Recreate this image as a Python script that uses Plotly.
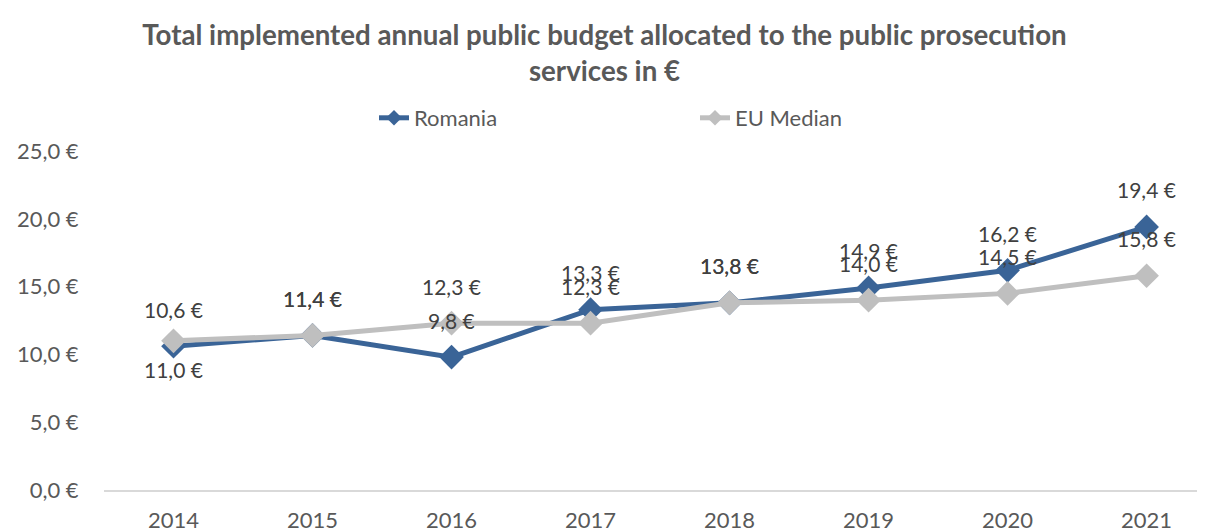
import plotly.graph_objects as go

years = ["2014", "2015", "2016", "2017", "2018", "2019", "2020", "2021"]
romania = [10.6, 11.4, 9.8, 13.3, 13.8, 14.9, 16.2, 19.4]
eu_median = [11.0, 11.4, 12.3, 12.3, 13.8, 14.0, 14.5, 15.8]
y_ticks = [0, 5, 10, 15, 20, 25]

def fmt(v):
    return f"{v:.1f}".replace(".", ",") + " €"

BLUE = "#3A6497"
GREY = "#BFBFBF"
TXT = "#595959"
LBL = "#404040"
FONT = "Lato, Open Sans, sans-serif"

fig = go.Figure()
fig.add_trace(go.Scatter(
    x=years, y=romania, name="Romania", mode="lines+markers",
    line=dict(color=BLUE, width=5),
    marker=dict(symbol="diamond", size=19, color=BLUE),
    cliponaxis=False,
))
fig.add_trace(go.Scatter(
    x=years, y=eu_median, name="EU Median", mode="lines+markers",
    line=dict(color=GREY, width=5),
    marker=dict(symbol="diamond", size=19, color=GREY),
    cliponaxis=False,
))

annotations = []
for i, yr in enumerate(years):
    annotations.append(dict(x=i, y=romania[i], text=fmt(romania[i]), showarrow=False,
                            xref="x", yref="y",
                            yshift=37, font=dict(size=21, color=LBL, family=FONT)))
    shift = -29 if i == 0 else 37
    annotations.append(dict(x=i, y=eu_median[i], text=fmt(eu_median[i]), showarrow=False,
                            xref="x", yref="y",
                            yshift=shift, font=dict(size=21, color=LBL, family=FONT)))

fig.update_layout(
    width=1205, height=528,
    margin=dict(l=96, r=8, t=143, b=46, autoexpand=False),
    paper_bgcolor="white", plot_bgcolor="white",
    title=dict(
        text="<b>Total implemented annual public budget allocated to the public prosecution<br>services in €</b>",
        x=0.495, xref="container", xanchor="center", y=0.93, yanchor="middle",
        font=dict(size=27.7, color=TXT, family=FONT),
    ),
    showlegend=True,
    legend=dict(
        orientation="h", x=(366 - 96) / 1101, xanchor="left",
        y=1 + (143 - 110) / 339, yanchor="middle",
        font=dict(size=22, color=TXT, family=FONT),
        entrywidth=276, entrywidthmode="pixels",
        itemsizing="constant",
        bgcolor="rgba(0,0,0,0)",
    ),
    annotations=annotations,
    xaxis=dict(
        type="category", range=[-0.5, 7.42], automargin=False,
        showgrid=False, showline=True, linecolor="#D9D9D9", linewidth=2,
        ticks="outside", ticklen=10, tickcolor="rgba(0,0,0,0)",
        tickfont=dict(size=22, color=TXT, family=FONT),
        zeroline=False,
    ),
    yaxis=dict(
        range=[0, 25], tickvals=y_ticks, ticktext=[fmt(v) for v in y_ticks],
        automargin=False,
        showgrid=False, showline=False, zeroline=False,
        ticks="outside", ticklen=20, tickcolor="rgba(0,0,0,0)",
        tickfont=dict(size=22, color=TXT, family=FONT),
    ),
)

fig.write_html("out.html")
